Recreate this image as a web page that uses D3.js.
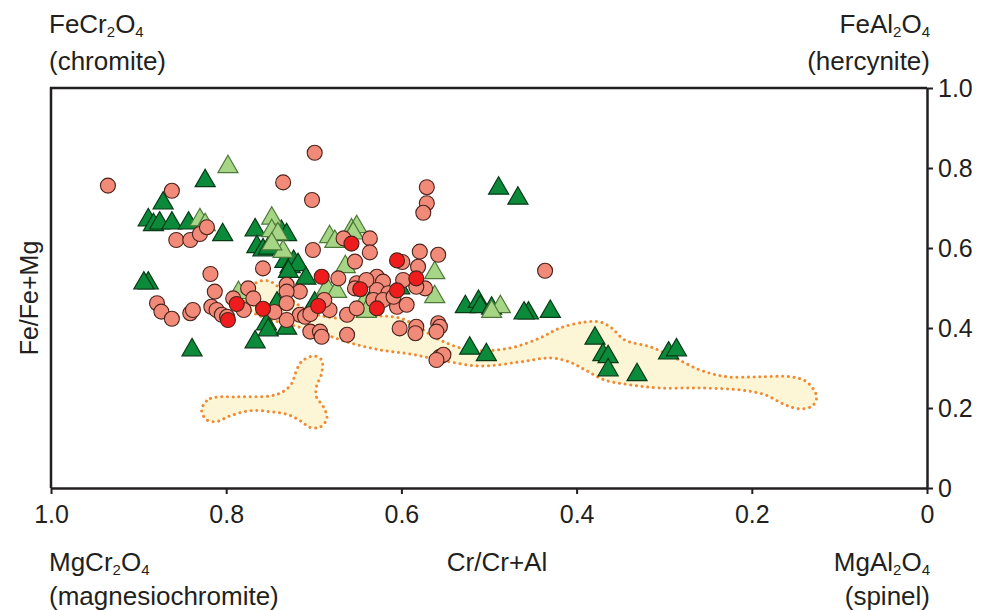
<!DOCTYPE html>
<html>
<head>
<meta charset="utf-8">
<script src="https://cdn.jsdelivr.net/npm/d3@7"></script>
<style>
  body { margin: 0; background: #fff; }
  text { font-family: "Liberation Sans", Arial, sans-serif; fill: #231f20; }
</style>
</head>
<body>
<div id="chart"></div>
<script>
// Cr/(Cr+Al) and Fe/(Fe+Mg)
var salmonCr = [0.935,0.862,0.735,0.699,0.702,0.857,0.841,0.830,0.822,0.701,0.758,0.818,0.813,0.775,0.792,0.879,0.874,0.862,0.841,0.838,0.817,0.811,0.805,0.799,0.780,0.769,0.731,0.716,0.731,0.731,0.716,0.710,0.704,0.731,0.704,0.693,0.691,0.682,0.672,0.662,0.662,0.666,0.636,0.636,0.653,0.651,0.653,0.651,0.628,0.621,0.628,0.615,0.632,0.621,0.605,0.594,0.609,0.602,0.583,0.584,0.558,0.556,0.560,0.556,0.552,0.560,0.579,0.558,0.581,0.573,0.583,0.571,0.571,0.575,0.436,0.599,0.745,0.688,0.640,0.598];
var salmonFe = [0.756,0.743,0.764,0.838,0.720,0.620,0.620,0.635,0.652,0.595,0.549,0.535,0.491,0.499,0.474,0.462,0.441,0.423,0.437,0.445,0.453,0.445,0.433,0.428,0.445,0.474,0.508,0.491,0.491,0.462,0.433,0.428,0.435,0.420,0.391,0.391,0.378,0.445,0.524,0.433,0.383,0.624,0.624,0.589,0.566,0.512,0.499,0.449,0.528,0.516,0.495,0.487,0.470,0.470,0.453,0.458,0.478,0.399,0.403,0.387,0.412,0.403,0.391,0.328,0.333,0.320,0.591,0.583,0.553,0.499,0.503,0.752,0.712,0.688,0.543,0.565,0.440,0.470,0.520,0.520];

var redCr = [0.788,0.798,0.758,0.691,0.695,0.657,0.647,0.628,0.605,0.605,0.583];
var redFe = [0.460,0.420,0.448,0.528,0.455,0.611,0.497,0.449,0.494,0.569,0.524];

var darkCr = [0.824,0.872,0.889,0.883,0.876,0.862,0.843,0.804,0.767,0.737,0.731,0.765,0.758,0.752,0.733,0.727,0.723,0.718,0.729,0.709,0.889,0.894,0.742,0.754,0.752,0.731,0.767,0.839,0.699,0.628,0.602,0.489,0.467,0.527,0.512,0.510,0.497,0.455,0.460,0.430,0.522,0.503,0.379,0.370,0.364,0.364,0.331,0.295,0.286];
var darkFe = [0.768,0.712,0.670,0.658,0.662,0.662,0.662,0.633,0.645,0.641,0.633,0.603,0.595,0.599,0.566,0.553,0.566,0.558,0.541,0.524,0.512,0.512,0.462,0.410,0.395,0.399,0.365,0.345,0.462,0.495,0.500,0.749,0.724,0.453,0.466,0.453,0.449,0.437,0.437,0.441,0.349,0.333,0.374,0.333,0.328,0.295,0.283,0.337,0.345];

var lightCr = [0.798,0.830,0.824,0.748,0.748,0.741,0.735,0.748,0.786,0.682,0.676,0.657,0.651,0.655,0.664,0.685,0.674,0.643,0.640,0.562,0.562,0.487,0.497];
var lightFe = [0.803,0.670,0.658,0.674,0.643,0.635,0.591,0.610,0.488,0.628,0.616,0.645,0.653,0.637,0.553,0.499,0.491,0.463,0.441,0.538,0.478,0.453,0.441];

// outlined fields
var fieldA = [[0.773,0.49],[0.766,0.513],[0.752,0.518],[0.739,0.50],[0.725,0.47],[0.704,0.44],[0.676,0.425],[0.636,0.43],[0.602,0.425],[0.579,0.40],[0.556,0.37],[0.522,0.345],[0.476,0.35],[0.442,0.375],[0.419,0.40],[0.390,0.415],[0.373,0.415],[0.360,0.40],[0.345,0.37],[0.316,0.353],[0.290,0.328],[0.259,0.295],[0.228,0.278],[0.191,0.278],[0.156,0.278],[0.139,0.268],[0.129,0.245],[0.126,0.225],[0.131,0.205],[0.145,0.198],[0.162,0.208],[0.185,0.233],[0.213,0.245],[0.259,0.25],[0.305,0.25],[0.339,0.258],[0.368,0.27],[0.390,0.295],[0.408,0.315],[0.430,0.325],[0.465,0.315],[0.510,0.305],[0.556,0.32],[0.590,0.335],[0.624,0.345],[0.659,0.363],[0.693,0.388],[0.727,0.408],[0.756,0.425],[0.773,0.445],[0.779,0.47]];
var fieldB = [[0.826,0.208],[0.818,0.224],[0.788,0.228],[0.750,0.230],[0.735,0.241],[0.725,0.262],[0.721,0.287],[0.714,0.316],[0.700,0.330],[0.691,0.320],[0.691,0.287],[0.697,0.253],[0.697,0.228],[0.689,0.203],[0.685,0.174],[0.693,0.152],[0.705,0.152],[0.714,0.166],[0.729,0.183],[0.750,0.191],[0.773,0.193],[0.796,0.180],[0.811,0.166],[0.822,0.170],[0.828,0.191]];

var xTicks = [1.0, 0.8, 0.6, 0.4, 0.2, 0];
var yTicks = [0, 0.2, 0.4, 0.6, 0.8, 1.0];

var width = 983, height = 610;
var svg = d3.select("#chart").append("svg")
    .attr("width", width)
    .attr("height", height);

var x = d3.scaleLinear().domain([1, 0]).range([51, 927]);
var y = d3.scaleLinear().domain([0, 1]).range([488, 88]);

// fields
var fieldLine = d3.line()
    .x(function(d) { return x(d[0]); })
    .y(function(d) { return y(d[1]); })
    .curve(d3.curveCatmullRomClosed.alpha(0.5));

svg.selectAll("path.field")
  .data([fieldA, fieldB])
  .enter().append("path")
    .attr("class", "field")
    .attr("d", fieldLine)
    .attr("fill", "#fdf6d6")
    .attr("stroke", "#ef8b35")
    .attr("stroke-width", 3)
    .attr("stroke-linecap", "round")
    .attr("stroke-dasharray", "0.1 5.6");

// frame (top + left)
svg.append("path")
    .attr("d", "M" + x(1) + "," + y(0) + "V" + y(1) + "H" + x(0))
    .attr("fill", "none")
    .attr("stroke", "#231f20")
    .attr("stroke-width", 2.5);

var fmt = function(d) { return d === 0 ? "0" : d3.format(".1f")(d); };

var xAxis = svg.append("g")
    .attr("transform", "translate(0," + y(0) + ")")
    .call(d3.axisBottom(x).tickValues(xTicks).tickFormat(fmt).tickSize(6).tickSizeOuter(0).tickPadding(11));

var yAxis = svg.append("g")
    .attr("transform", "translate(" + x(0) + ",0)")
    .call(d3.axisRight(y).tickValues(yTicks).tickFormat(fmt).tickSize(6).tickSizeOuter(0).tickPadding(5));

[xAxis, yAxis].forEach(function(a) {
  a.attr("font-size", 25).attr("font-family", "'Liberation Sans', Arial, sans-serif");
  a.select(".domain").attr("stroke", "#231f20").attr("stroke-width", 2.5);
  a.selectAll(".tick line").attr("stroke", "#231f20").attr("stroke-width", 2);
  a.selectAll(".tick text").attr("font-size", 25).attr("fill", "#231f20");
});

// points
var tri = d3.symbol().type(d3.symbolTriangle).size(175);

function triangles(cr, fe, fill, stroke) {
  svg.append("g").selectAll("path")
    .data(d3.range(cr.length))
    .enter().append("path")
      .attr("d", tri)
      .attr("transform", function(i) { return "translate(" + x(cr[i]) + "," + y(fe[i]) + ")"; })
      .attr("fill", fill)
      .attr("stroke", stroke)
      .attr("stroke-width", 1.2);
}

function circles(cr, fe, fill) {
  svg.append("g").selectAll("circle")
    .data(d3.range(cr.length))
    .enter().append("circle")
      .attr("cx", function(i) { return x(cr[i]); })
      .attr("cy", function(i) { return y(fe[i]); })
      .attr("r", 7.5)
      .attr("fill", fill)
      .attr("stroke", "#4a241c")
      .attr("stroke-width", 1.1);
}

triangles(darkCr, darkFe, "#0b8a3a", "#083a18");
triangles(lightCr, lightFe, "#a6d685", "#4d7a3a");
circles(salmonCr, salmonFe, "#f28a7a");
circles(redCr, redFe, "#ee1c1c");

// labels
function formula(parts, tx, ty, anchor) {
  var t = svg.append("text")
      .attr("x", tx).attr("y", ty)
      .attr("text-anchor", anchor)
      .attr("font-size", 26);
  var low = false;
  parts.forEach(function(p) {
    var s = t.append("tspan").attr("font-size", p.sub ? 15 : 26);
    if (p.sub && !low) { s.attr("dy", 4); low = true; }
    else if (!p.sub && low) { s.attr("dy", -4); low = false; }
    s.text(p.t);
  });
}

function label(str, tx, ty, anchor) {
  svg.append("text")
      .attr("x", tx).attr("y", ty)
      .attr("text-anchor", anchor)
      .attr("font-size", 26)
      .text(str);
}

formula([{t: "FeCr"}, {t: "2", sub: true}, {t: "O"}, {t: "4", sub: true}], 49, 33, "start");
label("(chromite)", 49, 70, "start");
formula([{t: "FeAl"}, {t: "2", sub: true}, {t: "O"}, {t: "4", sub: true}], 930, 33, "end");
label("(hercynite)", 930, 70, "end");
formula([{t: "MgCr"}, {t: "2", sub: true}, {t: "O"}, {t: "4", sub: true}], 49, 571, "start");
label("(magnesiochromite)", 49, 605, "start");
formula([{t: "MgAl"}, {t: "2", sub: true}, {t: "O"}, {t: "4", sub: true}], 930, 571, "end");
label("(spinel)", 930, 605, "end");
label("Cr/Cr+Al", 497, 571, "middle");

svg.append("text")
    .attr("transform", "translate(38,298) rotate(-90)")
    .attr("text-anchor", "middle")
    .attr("font-size", 25)
    .text("Fe/Fe+Mg");
</script>
</body>
</html>
